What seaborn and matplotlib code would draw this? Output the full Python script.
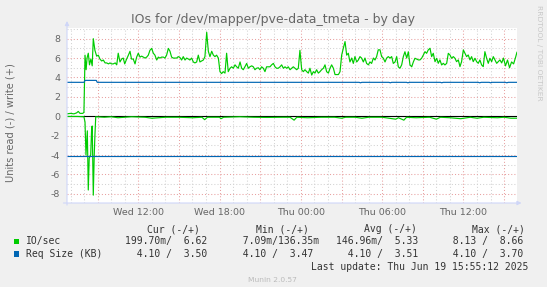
import matplotlib
matplotlib.use("Agg")
import matplotlib.pyplot as plt
from matplotlib.ticker import MultipleLocator, FuncFormatter
from matplotlib.patches import Rectangle
import pandas as pd
import seaborn as sns

# ---------------- data (hours since Wed 00:00) ----------------
write_hours = [6.74, 7.0, 7.25, 7.45, 7.57, 7.7, 7.9, 7.99, 8.07, 8.15, 8.22, 8.31, 8.4, 8.5, 8.6,
               8.68, 8.8, 8.93, 9.05, 9.17, 9.3, 9.42, 9.55, 9.67, 9.8, 9.91, 10.03, 10.15, 10.3,
               10.41, 10.52, 10.65, 10.77, 10.89, 11.0, 11.14, 11.27, 11.39, 11.5, 11.63, 11.76,
               11.88, 12.0, 12.13, 12.25, 12.37, 12.5, 12.62, 12.74, 12.86, 12.99, 13.11, 13.23,
               13.36, 13.48, 13.6, 13.72, 13.85, 13.97, 14.09, 14.22, 14.34, 14.46, 14.58, 14.7,
               14.83, 14.95, 15.08, 15.2, 15.32, 15.45, 15.57, 15.7, 15.81, 15.94, 16.06, 16.18,
               16.31, 16.43, 16.55, 16.68, 16.8, 16.92, 17.05, 17.17, 17.29, 17.42, 17.54, 17.66,
               17.78, 17.91, 18.03, 18.15, 18.27, 18.4, 18.52, 18.64, 18.77, 18.89, 19.01, 19.14,
               19.26, 19.38, 19.51, 19.63, 19.75, 19.87, 20.0, 20.12, 20.24, 20.37, 20.49, 20.61,
               20.73, 20.86, 20.98, 21.1, 21.23, 21.35, 21.47, 21.6, 21.72, 21.84, 21.97, 22.09,
               22.21, 22.33, 22.46, 22.58, 22.71, 22.83, 22.95, 23.07, 23.2, 23.32, 23.44, 23.57,
               23.69, 23.81, 23.93, 24.06, 24.18, 24.3, 24.43, 24.55, 24.67, 24.8, 24.92, 25.04,
               25.16, 25.29, 25.41, 25.53, 25.66, 25.78, 25.9, 26.03, 26.15, 26.27, 26.4, 26.52,
               26.64, 26.77, 26.89, 27.01, 27.13, 27.26, 27.38, 27.5, 27.62, 27.75, 27.87, 27.99,
               28.12, 28.24, 28.36, 28.48, 28.61, 28.73, 28.85, 28.98, 29.1, 29.22, 29.35, 29.47,
               29.59, 29.71, 29.84, 29.96, 30.08, 30.21, 30.33, 30.45, 30.58, 30.7, 30.82, 30.95,
               31.07, 31.19, 31.31, 31.44, 31.56, 31.68, 31.81, 31.93, 32.05, 32.18, 32.3, 32.42,
               32.67, 32.79, 32.91, 33.04, 33.16, 33.28, 33.4, 33.53, 33.65, 33.77, 33.9, 34.02,
               34.14, 34.26, 34.39, 34.51, 34.63, 34.76, 34.88, 35.0, 35.12, 35.25, 35.37, 35.49,
               35.62, 35.74, 35.86, 35.99, 36.11, 36.23, 36.35, 36.48, 36.6, 36.72, 36.85, 36.97,
               37.09, 37.21, 37.34, 37.46, 37.58, 37.71, 37.83, 37.95, 38.08, 38.2, 38.32, 38.45,
               38.57, 38.69, 38.82, 38.95, 39.1, 39.25, 39.4, 39.55, 39.7, 39.85, 39.95]
write_io = [0.25, 0.3, 0.25, 0.35, 0.5, 0.3, 0.3, 0.4, 6.3, 4.8, 6.0, 6.5, 5.3, 5.9, 5.2,
            8.0, 6.8, 6.2, 6.3, 5.9, 5.7, 5.8, 5.5, 5.5, 5.4, 5.5, 5.4, 5.4, 5.5,
            5.3, 6.5, 5.6, 5.9, 6.0, 5.4, 5.9, 6.3, 6.7, 5.9, 5.9, 5.4,
            6.1, 6.5, 6.1, 6.2, 6.1, 6.0, 6.1, 6.3, 6.8, 7.0, 6.5, 6.3,
            5.8, 6.1, 6.0, 6.1, 6.1, 6.0, 6.3, 7.0, 6.7, 6.1, 6.0, 6.0,
            6.0, 6.15, 6.05, 5.8, 6.15, 5.8, 6.0, 5.9, 5.8, 6.0, 5.6, 5.5,
            5.6, 6.3, 5.6, 5.7, 5.8, 6.15, 8.66, 6.7, 6.15, 6.7, 6.3, 6.15,
            6.3, 6.0, 4.6, 4.4, 4.6, 4.45, 6.5, 4.6, 4.95, 5.1, 4.95, 5.3,
            5.1, 4.95, 5.6, 4.95, 4.8, 5.1, 5.45, 4.95, 5.1, 5.2, 5.1, 4.8,
            4.95, 5.0, 4.8, 5.1, 4.95, 4.6, 5.1, 5.1, 5.1, 5.3, 5.45, 5.1,
            4.95, 4.95, 5.1, 5.3, 4.95, 5.1, 4.95, 5.1, 4.8, 4.95, 5.1, 4.95,
            4.8, 4.95, 6.8, 4.8, 4.6, 4.8, 4.6, 4.45, 4.95, 4.25, 4.6, 4.45,
            4.8, 4.45, 4.6, 4.8, 4.95, 5.3, 4.6, 4.45, 4.95, 5.3, 4.95, 4.3,
            4.3, 4.3, 4.6, 6.3, 7.0, 7.7, 6.3, 6.5, 5.6, 6.0, 5.45, 6.15,
            5.6, 5.8, 6.15, 6.0, 5.6, 6.0, 5.45, 5.3, 5.6, 5.45, 6.0, 5.8,
            6.15, 6.85, 6.85, 6.15, 6.0, 5.6, 6.0, 6.15, 6.0, 6.15, 5.45, 5.6,
            6.15, 5.1, 4.95, 5.3, 6.15, 6.65, 6.0, 6.65, 5.3, 5.1, 5.6, 5.98,
            5.81, 5.81, 5.98, 6.32, 6.66, 6.49, 6.84, 7.01, 6.15, 6.49, 5.63, 5.98,
            5.46, 5.81, 5.29, 5.46, 5.29, 5.46, 6.49, 6.32, 5.98, 6.15, 5.98, 5.63,
            5.81, 5.12, 5.63, 6.84, 6.49, 6.15, 6.32, 5.81, 6.15, 5.63, 5.98, 5.63,
            5.46, 5.81, 5.29, 5.12, 6.66, 5.98, 5.46, 5.98, 5.63, 6.15, 5.81, 5.46,
            5.63, 5.81, 5.5, 6.0, 5.2, 5.8, 5.0, 5.6, 5.4, 6.1, 6.62]

read_hours = [6.74, 7.5, 7.99, 8.07, 8.14, 8.24, 8.31, 8.38, 8.49, 8.56, 8.6, 8.68, 8.75, 8.8,
              8.86, 9.5, 10.0, 10.5, 11.0, 11.5, 12.5, 13.0, 13.5, 14.0, 15.0, 16.0, 16.7, 16.9,
              17.1, 18.0, 18.1, 18.3, 19.5, 20.5, 21.5, 22.6, 23.2, 23.5, 23.7, 24.5, 25.5, 26.5,
              27.0, 27.3, 28.0, 28.5, 29.0, 30.0, 31.0, 31.2, 31.6, 31.8, 32.5, 33.5, 34.0, 34.3,
              35.0, 35.8, 36.5, 37.0, 37.5, 38.5, 39.0, 39.5, 39.95]
read_io = [0.02, 0.02, 0.05, 0.6, 4.0, 1.5, 7.6, 4.3, 4.0, 1.2, 1.0, 8.13, 4.0, 2.0,
           0.05, 0.1, 0.05, 0.15, 0.1, 0.05, 0.1, 0.2, 0.15, 0.1, 0.1, 0.15, 0.1, 0.35,
           0.1, 0.1, 0.25, 0.1, 0.05, 0.1, 0.12, 0.1, 0.1, 0.4, 0.1, 0.15, 0.1, 0.1,
           0.2, 0.1, 0.1, 0.2, 0.1, 0.1, 0.3, 0.15, 0.4, 0.1, 0.15, 0.1, 0.3, 0.1,
           0.15, 0.25, 0.1, 0.2, 0.1, 0.15, 0.1, 0.2, 0.2]

req_write_hours = [6.74, 8.0, 8.07, 8.9, 8.97, 28.3, 28.4, 28.5, 30.5, 30.6, 30.7, 31.8, 31.9, 32.0,
                   34.3, 34.4, 34.5, 37.1, 37.2, 37.3, 37.9, 38.0, 38.1, 39.1, 39.2, 39.3, 39.95]
req_write_kb = [3.50, 3.50, 3.70, 3.70, 3.50, 3.50, 3.45, 3.50, 3.50, 3.45, 3.50, 3.50, 3.45, 3.50,
                3.50, 3.45, 3.50, 3.50, 3.45, 3.50, 3.50, 3.45, 3.50, 3.50, 3.45, 3.50, 3.50]
req_read_hours = [6.74, 39.95]
req_read_kb = [4.10, 4.10]

xtick_hours = [12, 18, 24, 30, 36]
xtick_labels = ["Wed 12:00", "Wed 18:00", "Thu 00:00", "Thu 06:00", "Thu 12:00"]

legend_names = ["IO/sec", "Req Size (KB)"]
legend_colors = ["#00CC00", "#0066B3"]
legend_headers = ["Cur (-/+)", "Min (-/+)", "Avg (-/+)", "Max (-/+)"]
legend_values = [
    ["199.70m/  6.62", "  7.09m/136.35m", "146.96m/  5.33", "  8.13 /  8.66"],
    ["  4.10 /  3.50", "  4.10 /  3.47", "  4.10 /  3.51", "  4.10 /  3.70"],
]
title = "IOs for /dev/mapper/pve-data_tmeta - by day"
ylabel = "Units read (-) / write (+)"
last_update = "Last update: Thu Jun 19 15:55:12 2025"
version = "Munin 2.0.57"
watermark = "RRDTOOL / TOBI OETIKER"

# ---------------- style ----------------
sns.set_theme(style="white")
plt.rcParams['font.family'] = ['DejaVu Sans']
plt.rcParams['axes.unicode_minus'] = False

W, H = 547, 287
FONT = '#666666'
AXISC = '#CFD6F8'
MAJ = '#E8A0A0'
MIN = '#D2D2D2'

fig = plt.figure(figsize=(W / 100, H / 100), dpi=100, facecolor='#F0F0F0')
L, R, T, B = 67, 517, 28, 203
ax = fig.add_axes([L / W, 1 - B / H, (R - L) / W, (B - T) / H])
ax.set_facecolor('white')

df_w = pd.DataFrame({'t': write_hours, 'v': write_io})
df_r = pd.DataFrame({'t': read_hours, 'v': [-v for v in read_io]})
df_qw = pd.DataFrame({'t': req_write_hours, 'v': req_write_kb})
df_qr = pd.DataFrame({'t': req_read_hours, 'v': [-v for v in req_read_kb]})

lw = 0.85
sns.lineplot(data=df_r, x='t', y='v', color=legend_colors[0], lw=lw, ax=ax, estimator=None, zorder=3)
sns.lineplot(data=df_w, x='t', y='v', color=legend_colors[0], lw=lw, ax=ax, estimator=None, zorder=3)
sns.lineplot(data=df_qr, x='t', y='v', color=legend_colors[1], lw=lw, ax=ax, estimator=None, zorder=3)
sns.lineplot(data=df_qw, x='t', y='v', color=legend_colors[1], lw=lw, ax=ax, estimator=None, zorder=3)
ax.axhline(0, color='black', lw=0.8, zorder=2.5)

ax.set_xlim(6.74, 39.95)
ax.set_ylim(-8.94, 9.1)
ax.set_xlabel('')
ax.set_ylabel('')

lab = dict(zip(xtick_hours, xtick_labels))
ax.xaxis.set_major_locator(MultipleLocator(3))
ax.xaxis.set_minor_locator(MultipleLocator(1))
ax.xaxis.set_major_formatter(FuncFormatter(lambda v, p: lab.get(int(round(v)), '')))
ax.yaxis.set_major_locator(MultipleLocator(2))
ax.yaxis.set_minor_locator(MultipleLocator(1))
ax.yaxis.set_major_formatter(FuncFormatter(lambda v, p: f"{int(round(v))}"))

ax.grid(which='major', color=MAJ, linestyle=(0, (1, 2)), linewidth=0.75)
ax.grid(which='minor', color=MIN, linestyle=(0, (1, 2)), linewidth=0.75)
ax.set_axisbelow(True)

ax.tick_params(axis='both', which='major', labelsize=6.8, labelcolor=FONT, color=MAJ,
               length=2.5, width=0.7, direction='inout')
ax.tick_params(axis='both', which='minor', color=MIN, length=2.5, width=0.7, direction='inout')
ax.tick_params(axis='x', which='major', pad=2.5)
ax.tick_params(axis='y', which='major', pad=3.5)
for s in ax.spines.values():
    s.set_visible(False)

# axis arrows
ax.annotate('', xy=(0, 1.04), xytext=(0, -0.012), xycoords='axes fraction',
            arrowprops=dict(arrowstyle='-|>', color=AXISC, lw=0.8, mutation_scale=6,
                            shrinkA=0, shrinkB=0), annotation_clip=False)
ax.annotate('', xy=(1.01, 0), xytext=(-0.008, 0), xycoords='axes fraction',
            arrowprops=dict(arrowstyle='-|>', color=AXISC, lw=0.8, mutation_scale=6,
                            shrinkA=0, shrinkB=0), annotation_clip=False)

# texts
def fx(x):
    return x / W

def fy(y):
    return 1 - y / H

fig.text(fx(273), fy(20), title, ha='center', va='center', fontsize=9, color=FONT)
fig.text(fx(10.5), fy(122.5), ylabel, ha='center', va='center', rotation=90, fontsize=7.1, color=FONT)
fig.text(fx(538.5), fy(53), watermark, ha='center', va='center', rotation=270, fontsize=5.4,
         color='#C8C8C8')
fig.text(fx(272.5), fy(280), version, ha='center', va='center', fontsize=5.4, color='#BBBBBB')

MONO = 'DejaVu Sans Mono'
LCOL = '#333333'
hdr_x = [147.4, 256.1, 364.1, 472.1]
val_x = [124.7, 231.0, 336.2, 441.1]
for h, x in zip(legend_headers, hdr_x):
    fig.text(fx(x), fy(229), h, ha='left', va='center', fontsize=7, family=MONO, color=LCOL)
rows_y = [241.3, 254.2]
for name, col, vals, y in zip(legend_names, legend_colors, legend_values, rows_y):
    fig.add_artist(Rectangle((fx(13.6), fy(y + 2.8)), 5.6 / W, 5.6 / H, transform=fig.transFigure,
                             facecolor=col, edgecolor='none'))
    fig.text(fx(26.1), fy(y), name, ha='left', va='center', fontsize=7, family=MONO, color=LCOL)
    for v, x in zip(vals, val_x):
        fig.text(fx(x), fy(y), v, ha='left', va='center', fontsize=7, family=MONO, color=LCOL)
fig.text(fx(311.1), fy(267.1), last_update, ha='left', va='center', fontsize=7, family=MONO,
         color=LCOL)

fig.savefig('out.png', dpi=100, facecolor=fig.get_facecolor())
